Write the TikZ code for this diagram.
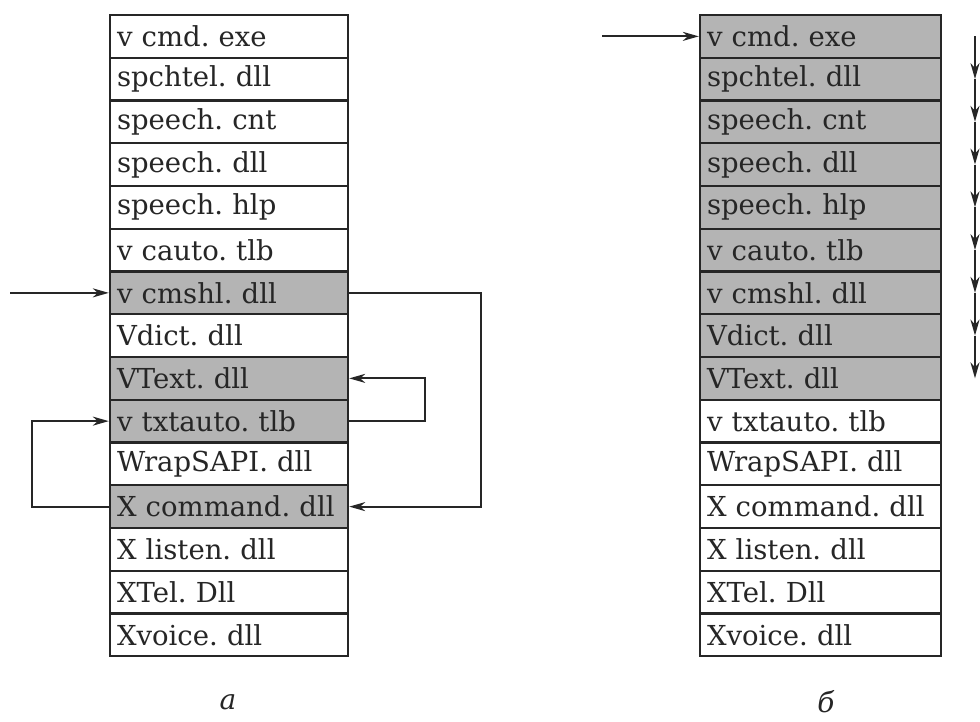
\documentclass[tikz,border=0pt]{standalone}
\usepackage{fontspec}
\setmainfont{DejaVu Serif}
\usetikzlibrary{arrows.meta}
\definecolor{cellgray}{RGB}{180,180,180}
\frenchspacing
\begin{document}
\begin{tikzpicture}[x=1pt,y=-1pt,
  cell/.style={draw=black!85,line width=2.4pt,rectangle,minimum height=42.75pt,
    inner sep=0pt,align=left,font=\fontsize{27.5}{30}\selectfont,text=black!85},
  lcell/.style={cell,minimum width=238pt,text width=224pt},
  rcell/.style={cell,minimum width=241pt,text width=227pt},
  shaded/.style={fill=cellgray},
  conn/.style={draw=black!85,line width=2.2pt,-{Stealth[length=16pt,width=9pt,inset=5pt]}},
  captext/.style={font=\fontsize{28}{30}\selectfont\itshape,text=black!85}]
\useasboundingbox (0,0) rectangle (980,722);
\def\rowy#1{15+(#1+0.5)*42.75}
% left column
\foreach \i/\t/\s in {0/v cmd. exe/,1/spchtel. dll/,2/speech. cnt/,3/speech. dll/,4/speech. hlp/,5/v cauto. tlb/,6/v cmshl. dll/shaded,7/Vdict. dll/,8/VText. dll/shaded,9/v txtauto. tlb/shaded,10/WrapSAPI. dll/,11/X command. dll/shaded,12/X listen. dll/,13/XTel. Dll/,14/Xvoice. dll/}{
  \node[lcell,\s] (a\i) at (229,{\rowy{\i}}) {\t};
}
% right column
\foreach \i/\t/\s in {0/v cmd. exe/shaded,1/spchtel. dll/shaded,2/speech. cnt/shaded,3/speech. dll/shaded,4/speech. hlp/shaded,5/v cauto. tlb/shaded,6/v cmshl. dll/shaded,7/Vdict. dll/shaded,8/VText. dll/shaded,9/v txtauto. tlb/,10/WrapSAPI. dll/,11/X command. dll/,12/X listen. dll/,13/XTel. Dll/,14/Xvoice. dll/}{
  \node[rcell,\s] (b\i) at (820.5,{\rowy{\i}}) {\t};
}
% left connectors
\coordinate (inL) at (10,{\rowy{6}});
\draw[conn] (inL) -- (a6.west);
\draw[conn] (a6.east) -- ++(132,0) |- (a11.east);
\draw[conn] (a9.east) -- ++(76,0) |- (a8.east);
\draw[conn] (a11.west) -- ++(-77,0) |- (a9.west);
% right connectors
\coordinate (inR) at (602,{\rowy{0}});
\draw[conn] (inR) -- (b0.west);
\foreach \i in {0,...,8}{
  \coordinate (r\i) at (975,{\rowy{\i}});
}
\foreach \i [evaluate=\i as \j using int(\i+1)] in {0,...,7}{
  \draw[conn] (r\i) -- (r\j);
}
% captions
\node[captext] (capa) at (228,702) {а};
\node[captext] (capb) at (826,702) {б};
\end{tikzpicture}
\end{document}
